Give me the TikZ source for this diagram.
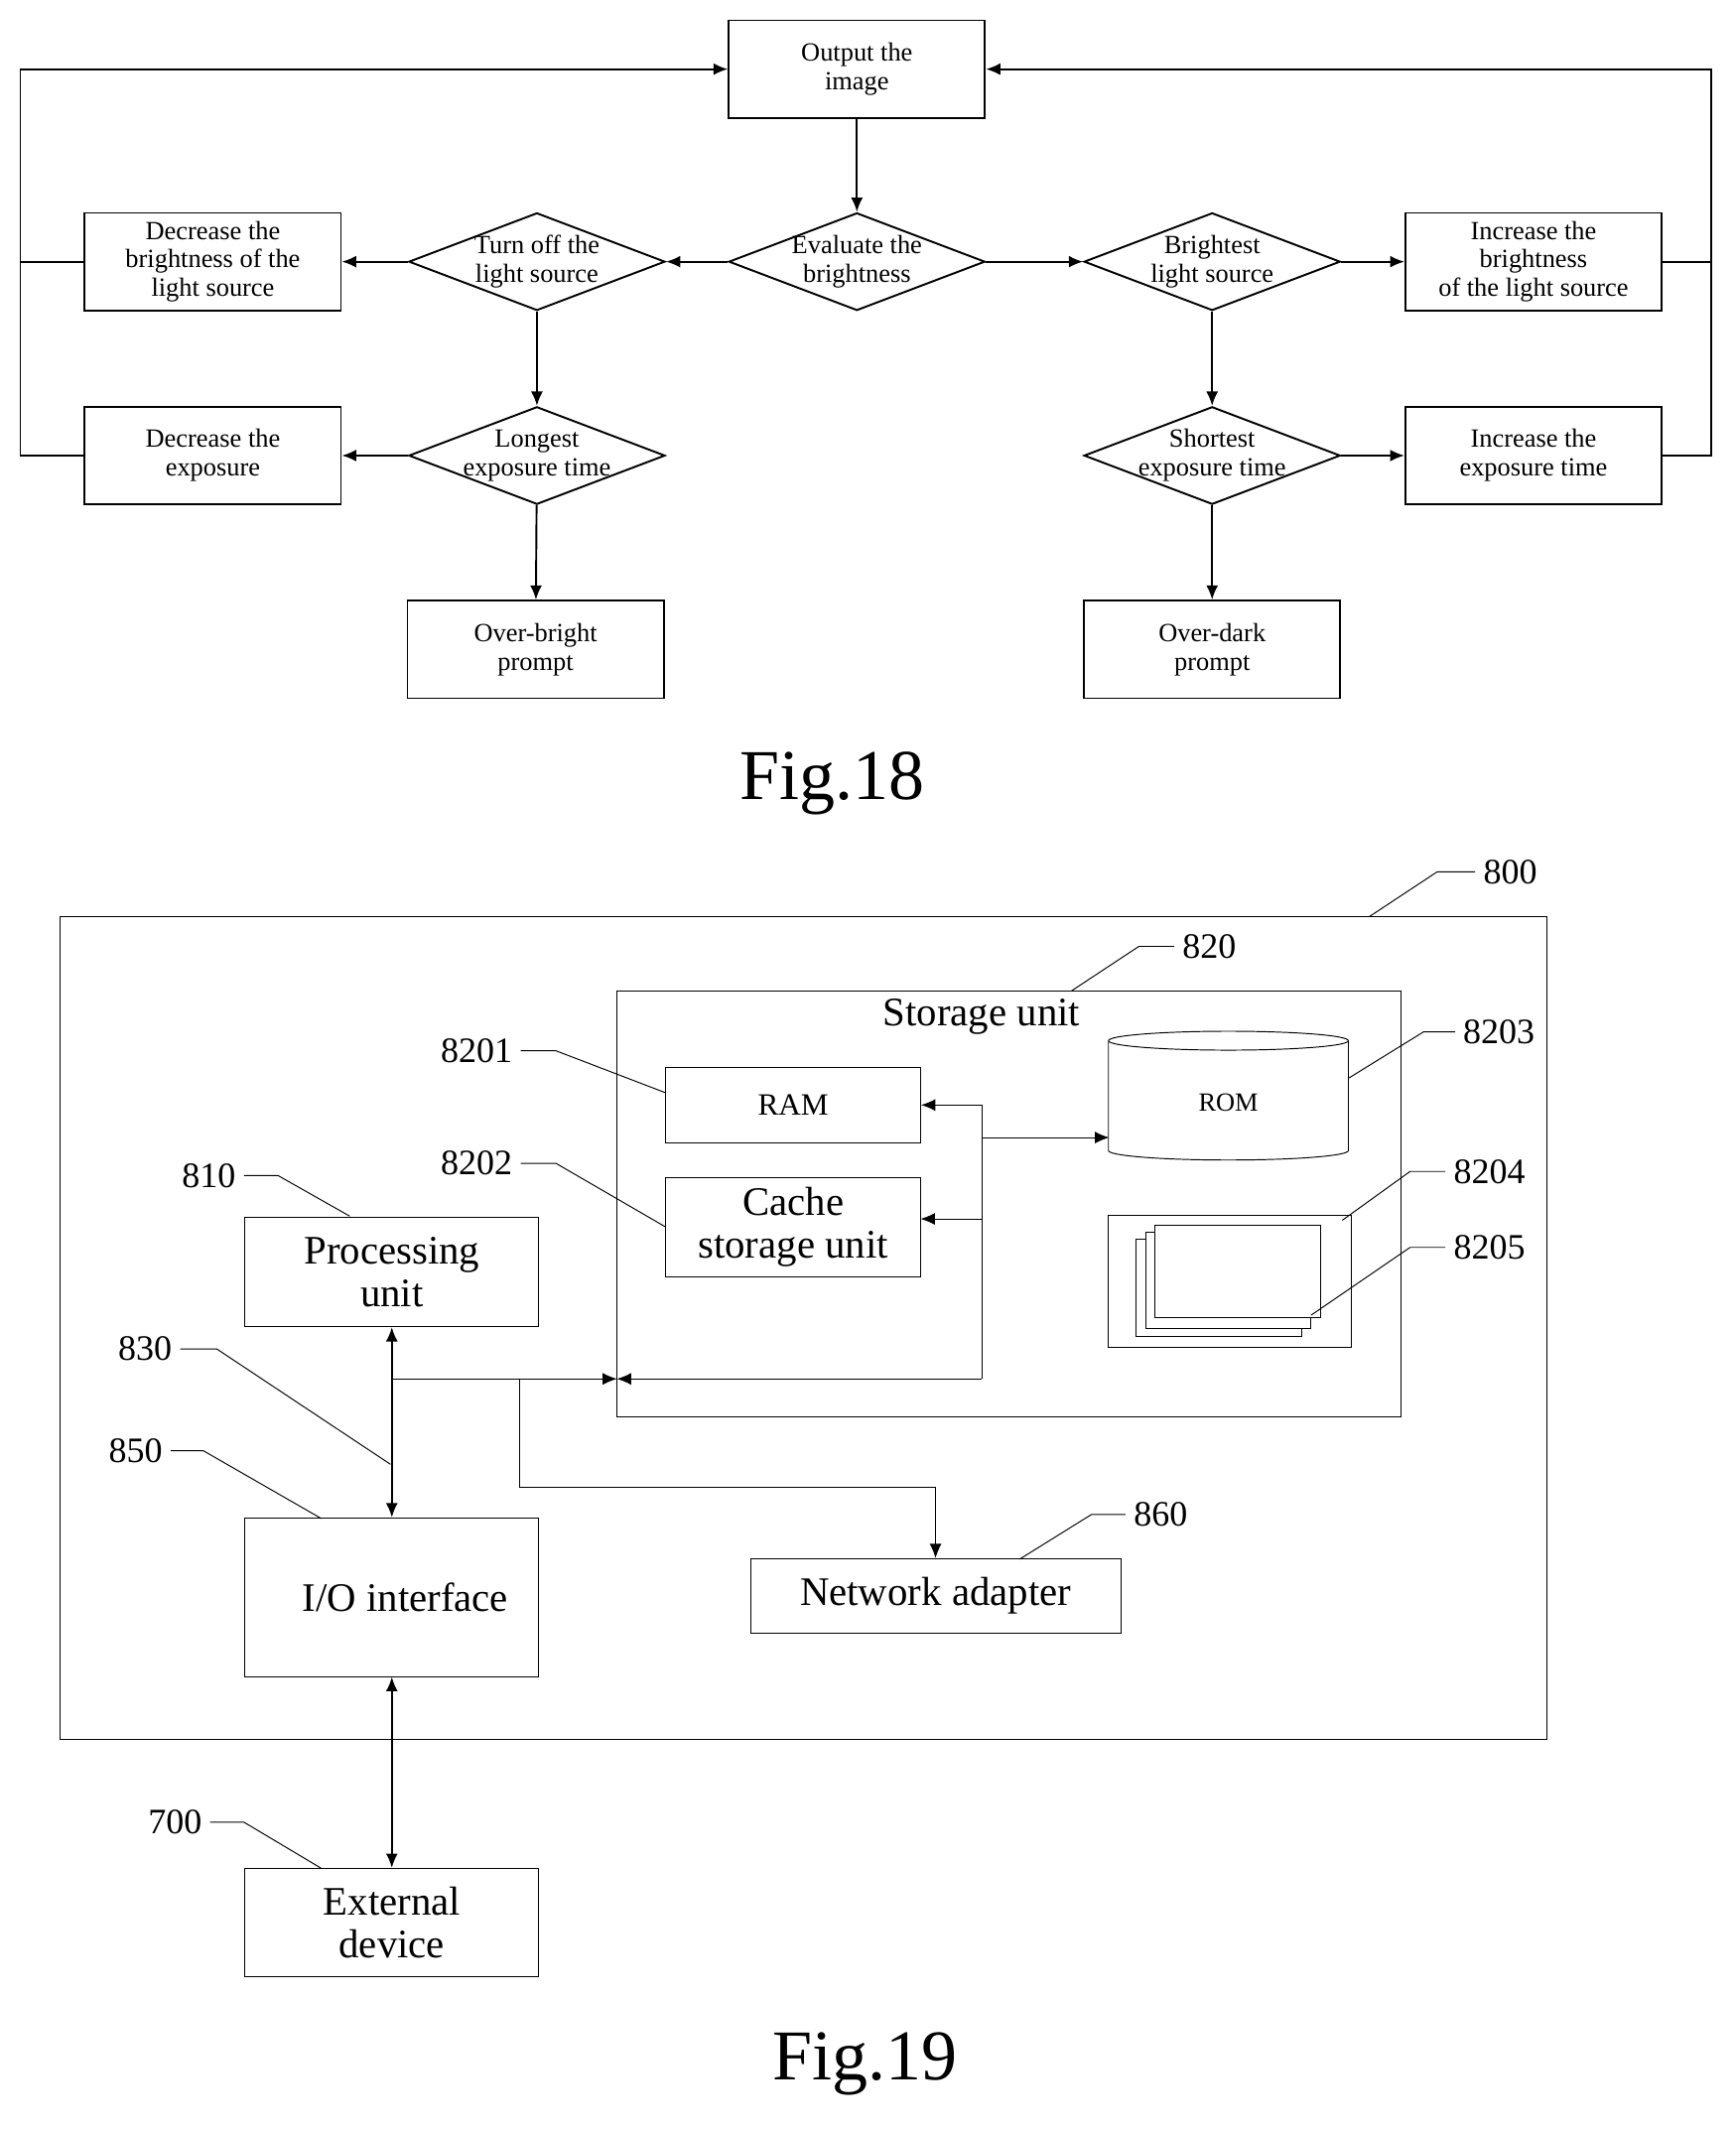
\documentclass[tikz,border=0pt]{standalone}
\usepackage{fontspec}
\setmainfont{Liberation Serif}
\usetikzlibrary{shapes.geometric,arrows.meta}
\begin{document}
\begin{tikzpicture}[x=0.02cm,y=-0.02cm,
 box/.style={draw,thick,minimum width=3.78cm,minimum height=1.44cm,align=center,font=\fontsize{11}{12}\selectfont,inner sep=1pt},
 dia/.style={draw,thick,diamond,minimum width=3.78cm,minimum height=1.44cm,inner sep=0pt,
   label={[align=center,font=\fontsize{11}{12}\selectfont]center:#1}},
 ar/.style={-{Latex[length=6pt,width=5pt]},thick},
 bar/.style={{Latex[length=6pt,width=5pt]}-{Latex[length=6pt,width=5pt]},thick},
 bb/.style={draw,thin,align=center,font=\fontsize{17}{18}\selectfont},
 num/.style={font=\fontsize{15}{16}\selectfont},
 lead/.style={thin}]
\useasboundingbox (0,0) rectangle (1280,1571);
% Fig 18
\node[box] (out) at (632,51) {Output the\\image};
\node[dia={Evaluate the\\brightness}] (eval) at (632,193) {};
\node[dia={Turn off the\\light source}] (toff) at (396,193) {};
\node[box] (decb) at (157,193) {Decrease the\\brightness of the\\light source};
\node[dia={Longest\\exposure time}] (long) at (396,336) {};
\node[box] (dece) at (157,336) {Decrease the\\exposure};
\node[box] (ob) at (395,479) {Over-bright\\prompt};
\node[dia={Brightest\\light source}] (brt) at (894,193) {};
\node[box] (incb) at (1131,193) {Increase the\\brightness\\of the light source};
\node[dia={Shortest\\exposure time}] (short) at (894,336) {};
\node[box] (ince) at (1131,336) {Increase the\\exposure time};
\node[box] (od) at (894,479) {Over-dark\\prompt};
\draw[ar] (out) -- (eval);
\draw[ar] (eval) -- (toff);
\draw[ar] (toff) -- (decb);
\draw[ar] (toff) -- (long);
\draw[ar] (long) -- (dece);
\draw[ar] (long) -- (ob);
\draw[ar] (eval) -- (brt);
\draw[ar] (brt) -- (incb);
\draw[ar] (brt) -- (short);
\draw[ar] (short) -- (ince);
\draw[ar] (short) -- (od);
\draw[ar] (decb.west) -- (15,193) |- (out.west);
\draw[thick] (dece.west) -- (15,336) -- (15,193);
\draw[ar] (incb.east) -- (1262,193) |- (out.east);
\draw[thick] (ince.east) -- (1262,336) -- (1262,193);
\node[font=\fontsize{30}{32}\selectfont] (f18) at (614,578) {Fig.18};
% Fig 19
\draw[thin] (44,676) rectangle (1141,1283);
\coordinate (o800) at (1010,676);
\node[num,anchor=west] (n800) at (1088,643) {800};
\draw[lead] (o800) -- (1060,643) -- (n800.west);
\draw[thin] (455,731) rectangle (1033,1045);
\node[font=\fontsize{17}{18}\selectfont] (su) at (724,750) {Storage unit};
\node[num,anchor=west] (n820) at (866,698) {820};
\draw[lead] (790,731) -- (840,698) -- (n820.west);
\node[bb,minimum width=3.76cm,minimum height=1.12cm,font=\fontsize{13}{14}\selectfont] (ram) at (585,815) {RAM};
\node[bb,minimum width=3.76cm,minimum height=1.46cm,inner sep=0pt] (cache) at (585,905) {Cache\\storage unit};
\node[cylinder,draw,thin,shape border rotate=90,aspect=0.25,minimum width=3.54cm,minimum height=1.9cm,font=\fontsize{11}{12}\selectfont] (rom) at (906,813) {ROM};
\node[draw,thin,minimum width=3.6cm,minimum height=1.94cm] (b8204) at (907,945) {};
\draw[thin,fill=white] (838,914) rectangle (960,986);
\draw[thin,fill=white] (845,909) rectangle (967,980);
\draw[thin,fill=white] (852,904) rectangle (974,972);
\coordinate (j1) at (724,815);
\coordinate (j2) at (724,1017);
\coordinate (mid) at (455,1017);
\draw[thin] (j1) -- (j2);
\draw[ar,thin] (j1) -- (ram.east);
\draw[ar,thin] (724,899) -- (679,899);
\draw[ar,thin] (724,839) -- (818,839);
\draw[ar,thin] (j2) -- (mid);
\node[bb,minimum width=4.34cm,minimum height=1.62cm,inner sep=0pt] (pu) at (289,938) {Processing\\unit};
\node[bb,minimum width=4.34cm,minimum height=2.34cm] (io) at (289,1178) {\hspace*{0.4cm}I/O interface};
\node[bb,minimum width=5.46cm,minimum height=1.1cm] (na) at (690,1177) {Network adapter};
\node[bb,minimum width=4.34cm,minimum height=1.6cm,inner sep=0pt] (ext) at (289,1418) {External\\device};
\draw[bar] (pu.south) -- (io.north);
\draw[bar] (io.south) -- (ext.north);
\draw[ar,thin] (289,1017) -- (mid);
\draw[ar,thin] (383,1017) -- (383,1097) -- (690,1097) -- (na.north);
% labels
\node[num,anchor=east] (n8201) at (384,775) {8201};
\draw[lead] (n8201.east) -- (410,775) -- (491,806);
\node[num,anchor=east] (n8202) at (384,858) {8202};
\draw[lead] (n8202.east) -- (410,858) -- (491,905);
\node[num,anchor=west] (n8203) at (1073,761) {8203};
\draw[lead] (n8203.west) -- (1050,761) -- (995,795);
\node[num,anchor=west] (n8204) at (1066,864) {8204};
\draw[lead] (n8204.west) -- (1040,864) -- (990,900);
\node[num,anchor=west] (n8205) at (1066,920) {8205};
\draw[lead] (n8205.west) -- (1040,920) -- (967,970);
\node[num,anchor=east] (n810) at (180,867) {810};
\draw[lead] (n810.east) -- (205,867) -- (258,897);
\node[num,anchor=east] (n830) at (133,995) {830};
\draw[lead] (n830.east) -- (160,995) -- (288,1080);
\node[num,anchor=east] (n850) at (126,1070) {850};
\draw[lead] (n850.east) -- (150,1070) -- (237,1120);
\node[num,anchor=east] (n700) at (155,1344) {700};
\draw[lead] (n700.east) -- (180,1344) -- (237,1378);
\node[num,anchor=west] (n860) at (830,1117) {860};
\draw[lead] (n860.west) -- (805,1117) -- (752,1150);
\node[font=\fontsize{30}{32}\selectfont] (f19) at (638,1522) {Fig.19};
\end{tikzpicture}
\end{document}
